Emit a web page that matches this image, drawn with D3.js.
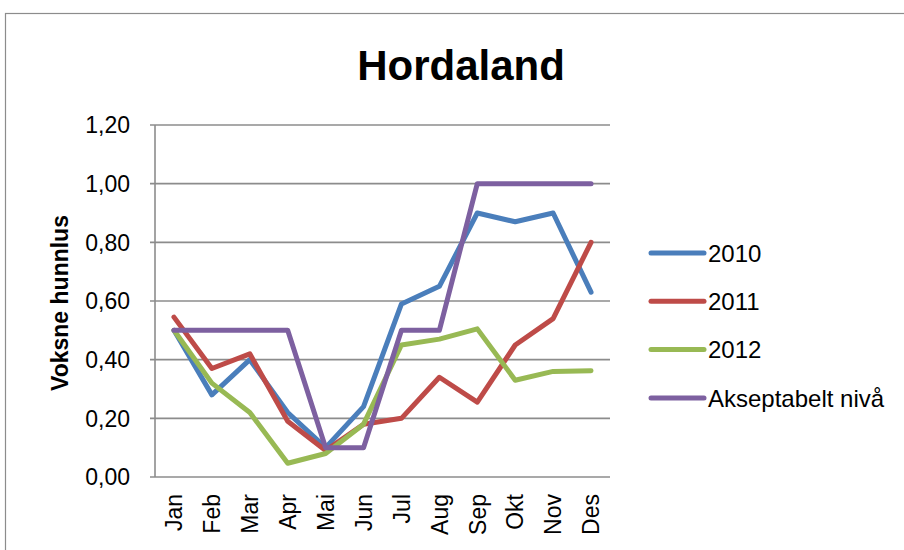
<!DOCTYPE html>
<html>
  <head>
    <meta charset="UTF-8">
    <title>Hordaland</title>
    <script src="https://cdnjs.cloudflare.com/ajax/libs/d3/7.8.5/d3.min.js"></script>
    <style>
      body {
        margin: 0;
        background: white;
        font-family: 'Liberation Sans', 'DejaVu Sans', sans-serif;
      }
      .grid line {
        stroke: #8c8c8c;
        stroke-width: 1.6px;
      }
      .series {
        fill: none;
        stroke-width: 5px;
        stroke-linejoin: round;
        stroke-linecap: round;
      }
    </style>
  </head>
  <body>
    <svg id="chart"></svg>
    <script>
      const months = ['Jan', 'Feb', 'Mar', 'Apr', 'Mai', 'Jun', 'Jul', 'Aug', 'Sep', 'Okt', 'Nov', 'Des']
      const v2010 = [0.50, 0.28, 0.40, 0.22, 0.10, 0.24, 0.59, 0.65, 0.90, 0.87, 0.90, 0.63]
      const v2011 = [0.545, 0.37, 0.42, 0.19, 0.09, 0.18, 0.20, 0.34, 0.255, 0.45, 0.54, 0.80]
      const v2012 = [0.50, 0.32, 0.22, 0.047, 0.08, 0.18, 0.45, 0.47, 0.505, 0.33, 0.36, 0.362]
      const vAkseptabelt = [0.5, 0.5, 0.5, 0.5, 0.1, 0.1, 0.5, 0.5, 1, 1, 1, 1]
      const seriesNames = ['2010', '2011', '2012', 'Akseptabelt nivå']
      const yTicks = [0, 0.2, 0.4, 0.6, 0.8, 1.0, 1.2]

      const colors = ['#4a7ebb', '#be4b48', '#98b954', '#7d60a0']
      const series = [v2010, v2011, v2012, vAkseptabelt]

      const width = 904
      const height = 550
      const plot = { left: 155, right: 610, top: 125, bottom: 477 }

      const svg = d3.select('#chart')
        .attr('width', width)
        .attr('height', height)

      // outer chart frame
      svg.append('rect')
        .attr('x', 5.5)
        .attr('y', 13.5)
        .attr('width', 920)
        .attr('height', 560)
        .attr('fill', 'none')
        .attr('stroke', '#8c8c8c')
        .attr('stroke-width', 1.2)

      const x = d3.scaleBand()
        .domain(months)
        .range([plot.left, plot.right])

      const y = d3.scaleLinear()
        .domain([0, 1.2])
        .range([plot.bottom, plot.top])

      const fmt = v => d3.format('.2f')(v).replace('.', ',')

      // gridlines
      svg.append('g')
        .attr('class', 'grid')
        .selectAll('line')
        .data(yTicks)
        .enter().append('line')
        .attr('x1', plot.left - 5)
        .attr('x2', plot.right)
        .attr('y1', d => y(d))
        .attr('y2', d => y(d))

      // y axis line
      svg.append('line')
        .attr('x1', plot.left)
        .attr('x2', plot.left)
        .attr('y1', plot.top)
        .attr('y2', plot.bottom)
        .attr('stroke', '#8c8c8c')
        .attr('stroke-width', 1.6)

      svg.append('g')
        .selectAll('text')
        .data(yTicks)
        .enter().append('text')
        .attr('x', 130)
        .attr('y', d => y(d))
        .attr('dy', '0.36em')
        .attr('text-anchor', 'end')
        .style('font-size', '23px')
        .text(fmt)

      // month labels
      svg.append('g')
        .selectAll('text')
        .data(months)
        .enter().append('text')
        .attr('transform', d => `translate(${x(d) + x.bandwidth() / 2}, 494) rotate(-90)`)
        .attr('dy', '0.36em')
        .attr('text-anchor', 'end')
        .style('font-size', '23px')
        .text(d => d)

      const line = d3.line()
        .x((d, i) => x(months[i]) + x.bandwidth() / 2)
        .y(d => y(d))

      svg.append('g')
        .selectAll('path')
        .data(series)
        .enter().append('path')
        .attr('class', 'series')
        .attr('stroke', (d, i) => colors[i])
        .attr('d', line)

      // title
      svg.append('text')
        .attr('x', 461)
        .attr('y', 80)
        .attr('text-anchor', 'middle')
        .style('font-size', '42px')
        .style('font-weight', 'bold')
        .text('Hordaland')

      svg.append('text')
        .attr('transform', 'translate(68, 303) rotate(-90)')
        .attr('text-anchor', 'middle')
        .style('font-size', '23px')
        .style('font-weight', 'bold')
        .text('Voksne hunnlus')

      // legend
      const legend = svg.append('g')
        .selectAll('g')
        .data(seriesNames)
        .enter().append('g')
        .attr('transform', (d, i) => `translate(651, ${253 + i * 48.3})`)

      legend.append('line')
        .attr('x1', 0)
        .attr('x2', 53)
        .attr('stroke', (d, i) => colors[i])
        .attr('stroke-width', 5)
        .attr('stroke-linecap', 'round')

      legend.append('text')
        .attr('x', 57)
        .attr('dy', '0.36em')
        .style('font-size', '24px')
        .text(d => d)
    </script>
  </body>
</html>
